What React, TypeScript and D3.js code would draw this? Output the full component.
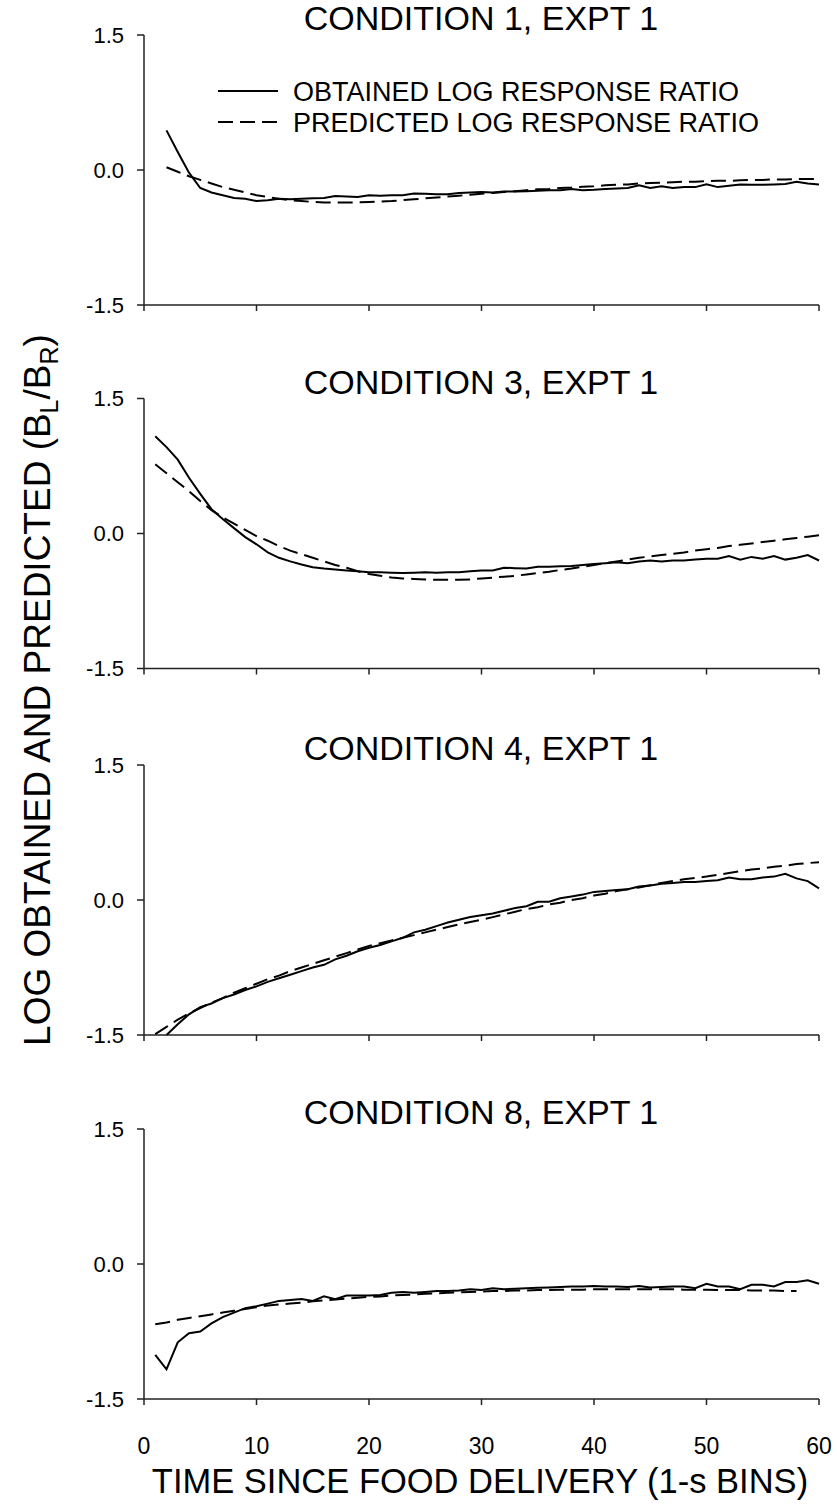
import React from 'react';
import * as d3 from 'd3';

// ---------- DATA ----------
const xTicks = [0, 10, 20, 30, 40, 50, 60];
const yTicks = [-1.5, 0.0, 1.5];
const panelTitles = ['CONDITION 1, EXPT 1', 'CONDITION 3, EXPT 1', 'CONDITION 4, EXPT 1', 'CONDITION 8, EXPT 1'];
const legendLabels = ['OBTAINED LOG RESPONSE RATIO', 'PREDICTED LOG RESPONSE RATIO'];

// Condition 1 (t = 2..60)
const cond1Start = 2;
const cond1Obtained = [
  0.44, 0.2, -0.03, -0.2, -0.25, -0.28, -0.31, -0.32, -0.345, -0.335,
  -0.32, -0.325, -0.32, -0.315, -0.31, -0.29, -0.295, -0.3, -0.28, -0.285,
  -0.28, -0.28, -0.26, -0.265, -0.27, -0.27, -0.255, -0.25, -0.245, -0.25,
  -0.24, -0.24, -0.235, -0.23, -0.225, -0.225, -0.21, -0.225, -0.22, -0.21,
  -0.205, -0.2, -0.17, -0.2, -0.18, -0.2, -0.19, -0.19, -0.16, -0.19,
  -0.175, -0.16, -0.165, -0.165, -0.16, -0.155, -0.13, -0.15, -0.16,
];
const cond1Predicted = [
  0.03, -0.02, -0.07, -0.11, -0.15, -0.19, -0.22, -0.25, -0.28, -0.3,
  -0.32, -0.335, -0.345, -0.355, -0.36, -0.36, -0.36, -0.36, -0.355, -0.35,
  -0.345, -0.335, -0.325, -0.315, -0.305, -0.295, -0.285, -0.275, -0.265, -0.255,
  -0.245, -0.235, -0.225, -0.215, -0.21, -0.2, -0.195, -0.185, -0.18, -0.17,
  -0.165, -0.16, -0.15, -0.145, -0.14, -0.135, -0.13, -0.13, -0.125, -0.12,
  -0.12, -0.115, -0.11, -0.11, -0.105, -0.105, -0.1, -0.1, -0.1,
];

// Condition 3 (t = 1..60)
const cond3Start = 1;
const cond3Obtained = [
  1.08, 0.96, 0.82, 0.62, 0.44, 0.27, 0.16, 0.06, -0.04, -0.12,
  -0.21, -0.27, -0.31, -0.345, -0.375, -0.39, -0.4, -0.41, -0.42, -0.43,
  -0.43, -0.435, -0.44, -0.435, -0.43, -0.435, -0.43, -0.43, -0.42, -0.41,
  -0.41, -0.38, -0.385, -0.39, -0.37, -0.37, -0.365, -0.36, -0.35, -0.34,
  -0.33, -0.32, -0.33, -0.31, -0.3, -0.31, -0.3, -0.3, -0.29, -0.28,
  -0.28, -0.25, -0.29, -0.26, -0.28, -0.25, -0.29, -0.27, -0.24, -0.3,
];
const cond3Predicted = [
  0.77, 0.67, 0.57, 0.47, 0.36, 0.26, 0.18, 0.11, 0.04, -0.03,
  -0.08, -0.14, -0.19, -0.23, -0.27, -0.31, -0.35, -0.38, -0.42, -0.45,
  -0.47, -0.49, -0.5, -0.505, -0.51, -0.515, -0.515, -0.515, -0.51, -0.5,
  -0.49, -0.48, -0.47, -0.455, -0.44, -0.425, -0.405, -0.39, -0.37, -0.35,
  -0.33, -0.31, -0.29, -0.27, -0.255, -0.24, -0.225, -0.21, -0.19, -0.175,
  -0.16, -0.14, -0.125, -0.11, -0.095, -0.08, -0.065, -0.05, -0.035, -0.02,
];

// Condition 4 (obtained t = 2..60, predicted t = 1..60)
const cond4ObtStart = 2;
const cond4Obtained = [
  -1.5, -1.38, -1.27, -1.19, -1.15, -1.09, -1.05, -1.0, -0.96,
  -0.91, -0.87, -0.83, -0.79, -0.75, -0.72, -0.66, -0.62, -0.57, -0.53,
  -0.5, -0.46, -0.42, -0.36, -0.33, -0.29, -0.25, -0.22, -0.19, -0.17,
  -0.15, -0.12, -0.09, -0.07, -0.02, -0.02, 0.02, 0.04, 0.06, 0.09,
  0.1, 0.11, 0.12, 0.15, 0.16, 0.18, 0.19, 0.2, 0.2, 0.21,
  0.22, 0.25, 0.23, 0.23, 0.25, 0.26, 0.29, 0.24, 0.21, 0.13,
];
const cond4PredStart = 1;
const cond4Predicted = [
  -1.49, -1.41, -1.33, -1.26, -1.2, -1.14, -1.09, -1.03, -0.98, -0.93,
  -0.88, -0.84, -0.79, -0.75, -0.71, -0.67, -0.63, -0.59, -0.55, -0.51,
  -0.48, -0.45, -0.42, -0.39, -0.36, -0.33, -0.3, -0.27, -0.245, -0.22,
  -0.19, -0.16, -0.13, -0.1, -0.08, -0.05, -0.03, 0.0, 0.02, 0.05,
  0.07, 0.1, 0.12, 0.14, 0.165, 0.19, 0.21, 0.23, 0.245, 0.26,
  0.28, 0.3, 0.32, 0.34, 0.35, 0.37, 0.38, 0.4, 0.41, 0.42,
];

// Condition 8 (obtained t = 1..60, predicted t = 1..58)
const cond8Start = 1;
const cond8Obtained = [
  -1.01, -1.17, -0.87, -0.77, -0.75, -0.66, -0.59, -0.54, -0.49, -0.47,
  -0.44, -0.41, -0.4, -0.39, -0.41, -0.36, -0.39, -0.35, -0.35, -0.35,
  -0.345, -0.32, -0.31, -0.32, -0.31, -0.3, -0.3, -0.295, -0.28, -0.29,
  -0.27, -0.28, -0.275, -0.27, -0.265, -0.26, -0.255, -0.25, -0.25, -0.245,
  -0.25, -0.25, -0.255, -0.245, -0.26, -0.255, -0.25, -0.25, -0.27, -0.22,
  -0.25, -0.25, -0.28, -0.23, -0.23, -0.25, -0.2, -0.2, -0.18, -0.22,
];
const cond8Predicted = [
  -0.67, -0.65, -0.62, -0.6, -0.58, -0.56, -0.54, -0.52, -0.5, -0.48,
  -0.46, -0.45, -0.44, -0.43, -0.415, -0.405, -0.395, -0.385, -0.375, -0.365,
  -0.36, -0.35, -0.345, -0.34, -0.33, -0.325, -0.32, -0.315, -0.31, -0.305,
  -0.3, -0.3, -0.295, -0.295, -0.29, -0.29, -0.285, -0.285, -0.285, -0.28,
  -0.28, -0.28, -0.28, -0.28, -0.28, -0.28, -0.28, -0.285, -0.285, -0.285,
  -0.29, -0.29, -0.29, -0.295, -0.295, -0.295, -0.3, -0.3,
];

// ---------- LAYOUT ----------
const W = 837;
const H = 1505;
const FONT = 'Arial, "Liberation Sans", Helvetica, sans-serif';
const panelTops = [35, 398.5, 765, 1129];
const panelH = 270;
const xLeft = 144;
const xRight = 819;

type Pt = { t: number; v: number };
const toPts = (vals: number[], start: number): Pt[] => vals.map((v, i) => ({ t: start + i, v }));

const panels = [
  { title: panelTitles[0], obt: toPts(cond1Obtained, cond1Start), pred: toPts(cond1Predicted, cond1Start), legend: true },
  { title: panelTitles[1], obt: toPts(cond3Obtained, cond3Start), pred: toPts(cond3Predicted, cond3Start), legend: false },
  { title: panelTitles[2], obt: toPts(cond4Obtained, cond4ObtStart), pred: toPts(cond4Predicted, cond4PredStart), legend: false },
  { title: panelTitles[3], obt: toPts(cond8Obtained, cond8Start), pred: toPts(cond8Predicted, cond8Start), legend: false },
];

export default function App() {
  const x = d3.scaleLinear().domain([0, 60]).range([xLeft, xRight]);
  const axisColor = '#222';
  const lineColor = '#000';

  return (
    <svg
      width={W}
      height={H}
      viewBox={`0 0 ${W} ${H}`}
      style={{ position: 'absolute', left: 0, top: 0, background: '#fff' }}
      fontFamily={FONT}
    >
      <rect x={0} y={0} width={W} height={H} fill="#fff" />
      {panels.map((p, pi) => {
        const top = panelTops[pi];
        const y = d3.scaleLinear().domain([-1.5, 1.5]).range([top + panelH, top]);
        const line = d3
          .line<Pt>()
          .x((d) => x(d.t))
          .y((d) => y(d.v));
        const bottom = y(-1.5);
        const isLast = pi === panels.length - 1;
        return (
          <g key={pi}>
            <text x={481} y={top - 5} textAnchor="middle" fontSize={34} fill="#000">
              {p.title}
            </text>
            {/* y axis */}
            <line x1={xLeft} x2={xLeft} y1={y(1.5)} y2={bottom} stroke={axisColor} strokeWidth={1.5} />
            {yTicks.map((v) => (
              <g key={v}>
                <line x1={xLeft - 7} x2={xLeft} y1={y(v)} y2={y(v)} stroke={axisColor} strokeWidth={1.5} />
                <text x={124} y={y(v)} dy="0.36em" textAnchor="end" fontSize={22} fill="#000">
                  {v.toFixed(1)}
                </text>
              </g>
            ))}
            {/* x axis */}
            <line x1={xLeft} x2={xRight} y1={bottom} y2={bottom} stroke={axisColor} strokeWidth={1.5} />
            {xTicks.map((t) => (
              <g key={t}>
                <line x1={x(t)} x2={x(t)} y1={bottom} y2={bottom + 6} stroke={axisColor} strokeWidth={1.5} />
                {isLast && (
                  <text x={x(t)} y={bottom + 55} textAnchor="middle" fontSize={23} fill="#000">
                    {t}
                  </text>
                )}
              </g>
            ))}
            {/* data lines */}
            <path d={line(p.pred) || ''} fill="none" stroke={lineColor} strokeWidth={2} strokeDasharray="15,7" />
            <path d={line(p.obt) || ''} fill="none" stroke={lineColor} strokeWidth={2} />
            {p.legend && (
              <g>
                <line x1={218} x2={278} y1={91} y2={91} stroke={lineColor} strokeWidth={2} />
                <text x={293} y={91} dy="0.36em" fontSize={27} fill="#000">
                  {legendLabels[0]}
                </text>
                <line x1={218} x2={278} y1={122} y2={122} stroke={lineColor} strokeWidth={2} strokeDasharray="15,7" />
                <text x={293} y={122} dy="0.36em" fontSize={27} fill="#000">
                  {legendLabels[1]}
                </text>
              </g>
            )}
          </g>
        );
      })}
      {/* axis titles */}
      <text x={480} y={1493} textAnchor="middle" fontSize={34.5} fill="#000">
        TIME SINCE FOOD DELIVERY (1-s BINS)
      </text>
      <text
        transform={`translate(50, 690) rotate(-90)`}
        textAnchor="middle"
        fontSize={37}
        fill="#000"
      >
        LOG OBTAINED AND PREDICTED (B
        <tspan fontSize={25} dy={8}>L</tspan>
        <tspan dy={-8}>/B</tspan>
        <tspan fontSize={25} dy={8}>R</tspan>
        <tspan dy={-8}>)</tspan>
      </text>
    </svg>
  );
}
